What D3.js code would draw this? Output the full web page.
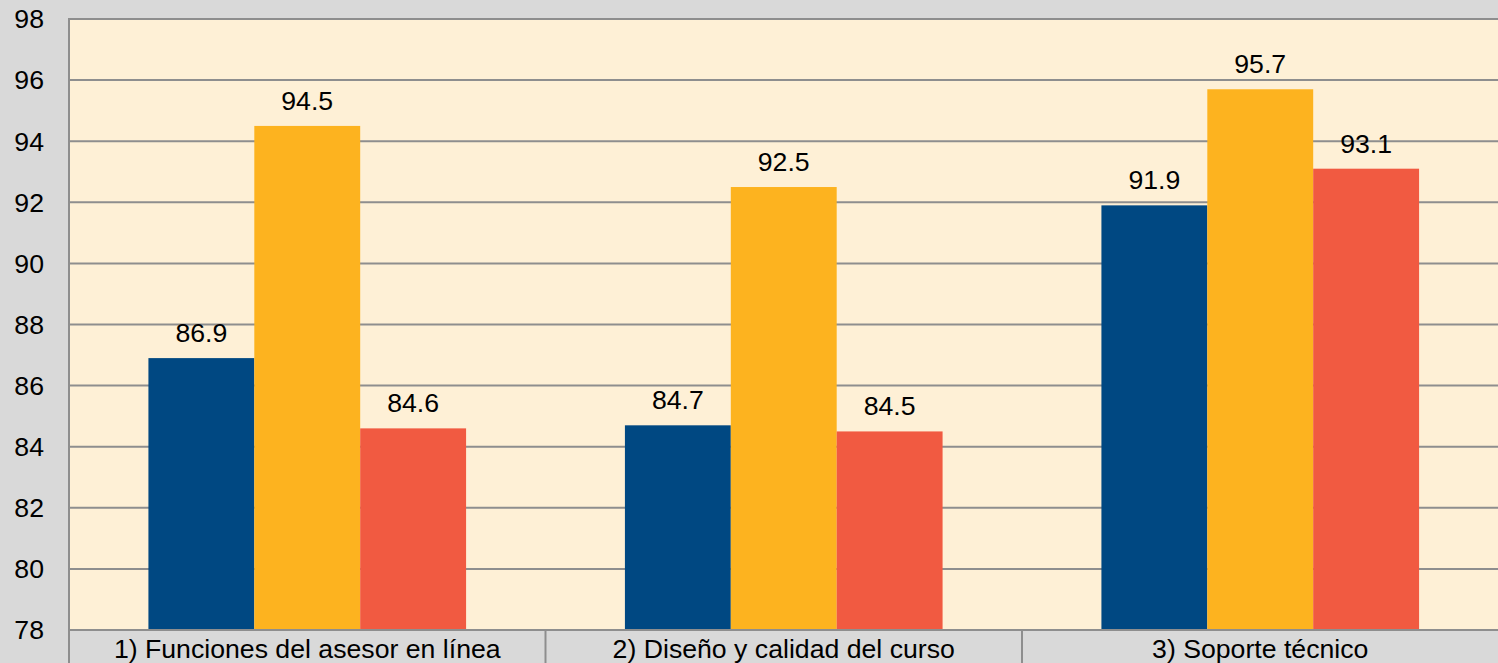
<!DOCTYPE html>
<html>
<head>
<meta charset="utf-8">
<script src="https://cdn.jsdelivr.net/npm/d3@7"></script>
<style>
  html, body { margin: 0; padding: 0; background: #d9d9d9; }
  svg { display: block; }
  text { font-family: "Liberation Sans", Arial, sans-serif; fill: #000; }
</style>
</head>
<body>
<svg id="chart" width="1498" height="663"></svg>
<script>
const categories = ["1) Funciones del asesor en línea", "2) Diseño y calidad del curso", "3) Soporte técnico"];
const seriesNames = ["Serie 1", "Serie 2", "Serie 3"];
const serie1 = [86.9, 84.7, 91.9];
const serie2 = [94.5, 92.5, 95.7];
const serie3 = [84.6, 84.5, 93.1];
const yTicks = [78, 80, 82, 84, 86, 88, 90, 92, 94, 96, 98];
const colors = ["#004882", "#fdb31f", "#f15a41"];

const seriesValues = [serie1, serie2, serie3];
const W = 1498, H = 663;
const plotLeft = 69, plotRight = 1498.5, plotTop = 19, plotBottom = 630;
const fontSize = 26.67;

const svg = d3.select("#chart");
svg.append("rect").attr("x", 0).attr("y", 0).attr("width", W).attr("height", H).attr("fill", "#d9d9d9");

const y = d3.scaleLinear().domain([78, 98]).range([plotBottom, plotTop]);
const x0 = d3.scaleBand().domain(categories).range([plotLeft, plotRight]).paddingInner(0).paddingOuter(0);
const x1 = d3.scaleBand().domain(seriesNames).range([0, x0.bandwidth()]).paddingInner(0).paddingOuter(0.75);

// plot background
svg.append("rect").attr("x", plotLeft).attr("y", plotTop).attr("width", plotRight - plotLeft).attr("height", plotBottom - plotTop).attr("fill", "#fef0d6");

// gridlines
svg.append("g").selectAll("line").data(yTicks.filter(t => t > 78)).join("line")
  .attr("x1", plotLeft).attr("x2", W)
  .attr("y1", d => y(d)).attr("y2", d => y(d))
  .attr("stroke", "#8e8e8e").attr("stroke-width", 2);

// bars
const groups = svg.append("g").selectAll("g").data(categories).join("g")
  .attr("transform", c => `translate(${x0(c)},0)`);

groups.selectAll("rect").data((c, i) => seriesNames.map((s, j) => ({ s, j, v: seriesValues[j][i] }))).join("rect")
  .attr("x", d => x1(d.s))
  .attr("width", x1.bandwidth())
  .attr("y", d => y(d.v))
  .attr("height", d => y(78) - y(d.v))
  .attr("fill", d => colors[d.j]);

groups.selectAll("text").data((c, i) => seriesNames.map((s, j) => ({ s, j, v: seriesValues[j][i] }))).join("text")
  .attr("x", d => x1(d.s) + x1.bandwidth() / 2)
  .attr("y", d => y(d.v) - 16)
  .attr("text-anchor", "middle")
  .attr("font-size", fontSize)
  .text(d => d3.format(".1f")(d.v));

// y axis labels
svg.append("g").selectAll("text").data(yTicks).join("text")
  .attr("x", 44)
  .attr("y", d => y(d))
  .attr("dy", "0.35em")
  .attr("text-anchor", "end")
  .attr("font-size", fontSize)
  .text(d => d);

// axis lines
svg.append("line").attr("x1", plotLeft).attr("x2", plotLeft).attr("y1", plotTop - 1).attr("y2", H)
  .attr("stroke", "#8e8e8e").attr("stroke-width", 2);
svg.append("line").attr("x1", plotLeft).attr("x2", W).attr("y1", plotBottom).attr("y2", plotBottom)
  .attr("stroke", "#8e8e8e").attr("stroke-width", 2);

// category separators
svg.append("g").selectAll("line").data(categories.slice(1)).join("line")
  .attr("x1", c => x0(c)).attr("x2", c => x0(c))
  .attr("y1", plotBottom).attr("y2", H)
  .attr("stroke", "#8e8e8e").attr("stroke-width", 2);

// category labels
svg.append("g").selectAll("text").data(categories).join("text")
  .attr("x", c => x0(c) + x0.bandwidth() / 2)
  .attr("y", 658)
  .attr("text-anchor", "middle")
  .attr("font-size", fontSize)
  .text(c => c);
</script>
</body>
</html>
